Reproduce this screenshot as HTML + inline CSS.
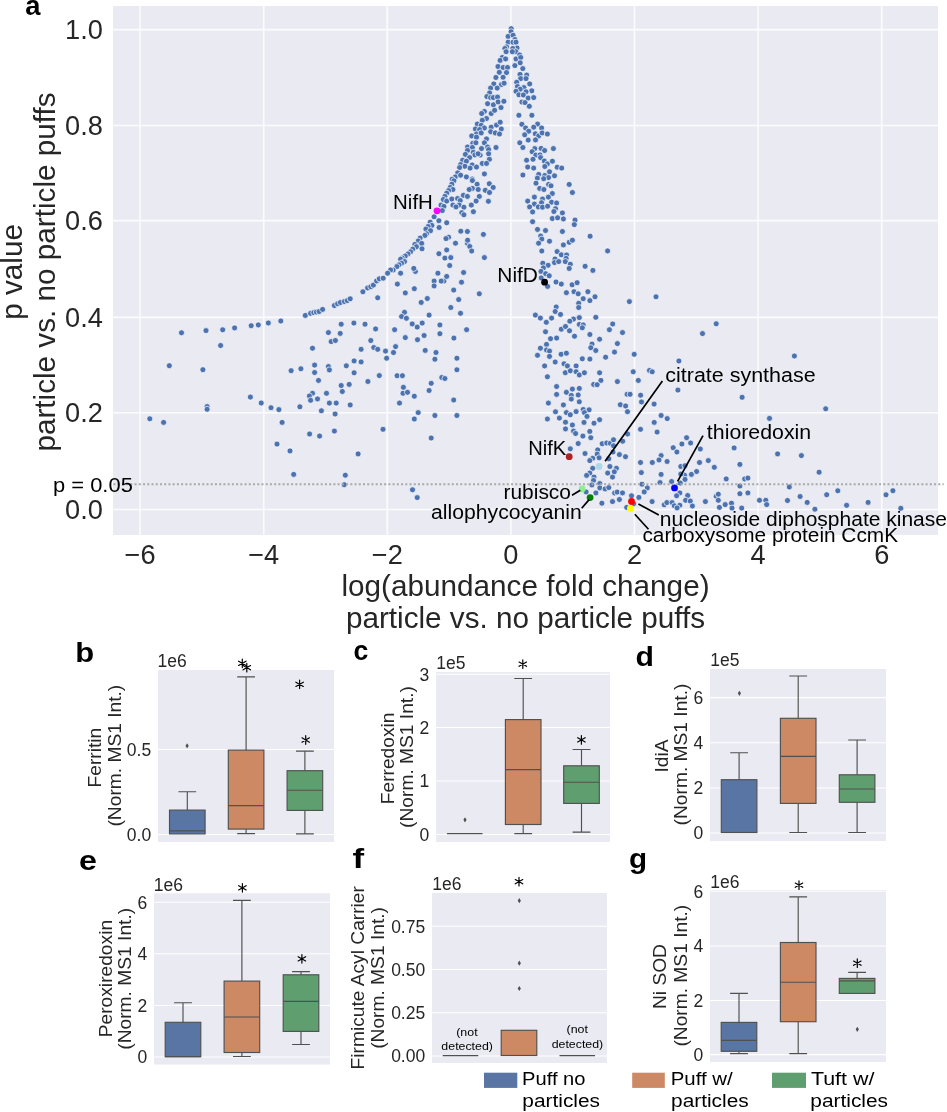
<!DOCTYPE html>
<html><head><meta charset="utf-8"><title>Figure</title>
<style>html,body{margin:0;padding:0;background:#fff;}svg{display:block;will-change:transform;}text{font-family:'Liberation Sans', sans-serif;}</style>
</head><body>
<svg width="947" height="1112" viewBox="0 0 947 1112">
<rect width="947" height="1112" fill="#fff"/>
<rect x="113" y="6" width="825" height="529" fill="#EAEAF2"/>
<path d="M140.10 6V535M263.70 6V535M387.30 6V535M510.90 6V535M634.50 6V535M758.10 6V535M881.70 6V535M113 509.50H938M113 412.75H938M113 317.35H938M113 220.60H938M113 125.45H938M113 29.60H938" stroke="#FBFBFD" stroke-width="1.6" fill="none"/>
<text x="102.9" y="518.80" font-size="27.2" text-anchor="end" fill="#262626">0.0</text>
<text x="102.9" y="422.05" font-size="27.2" text-anchor="end" fill="#262626">0.2</text>
<text x="102.9" y="326.65" font-size="27.2" text-anchor="end" fill="#262626">0.4</text>
<text x="102.9" y="229.90" font-size="27.2" text-anchor="end" fill="#262626">0.6</text>
<text x="102.9" y="134.75" font-size="27.2" text-anchor="end" fill="#262626">0.8</text>
<text x="102.9" y="38.90" font-size="27.2" text-anchor="end" fill="#262626">1.0</text>
<text x="140.10" y="563.9" font-size="27.2" text-anchor="middle" fill="#262626">−6</text>
<text x="263.70" y="563.9" font-size="27.2" text-anchor="middle" fill="#262626">−4</text>
<text x="387.30" y="563.9" font-size="27.2" text-anchor="middle" fill="#262626">−2</text>
<text x="510.90" y="563.9" font-size="27.2" text-anchor="middle" fill="#262626">0</text>
<text x="634.50" y="563.9" font-size="27.2" text-anchor="middle" fill="#262626">2</text>
<text x="758.10" y="563.9" font-size="27.2" text-anchor="middle" fill="#262626">4</text>
<text x="881.70" y="563.9" font-size="27.2" text-anchor="middle" fill="#262626">6</text>
<text x="525.5" y="595.7" font-size="29.7" text-anchor="middle" fill="#262626">log(abundance fold change)</text>
<text x="525.5" y="627.7" font-size="29.7" text-anchor="middle" fill="#262626">particle vs. no particle puffs</text>
<text transform="translate(21.8 271.9) rotate(-90)" font-size="29.7" text-anchor="middle" fill="#262626">p value</text>
<text transform="translate(54.5 272) rotate(-90)" font-size="29.7" text-anchor="middle" fill="#262626">particle vs. no particle puffs</text>
<g fill="#4C72B0" stroke="#fff" stroke-width="0.7"><circle cx="511.2" cy="28.7" r="3.0"/><circle cx="511.0" cy="31.8" r="3.0"/><circle cx="508.1" cy="36.4" r="3.0"/><circle cx="513.1" cy="35.3" r="3.0"/><circle cx="514.9" cy="39.5" r="3.0"/><circle cx="508.1" cy="42.2" r="3.0"/><circle cx="513.0" cy="42.2" r="3.0"/><circle cx="516.0" cy="42.2" r="3.0"/><circle cx="506.5" cy="46.9" r="3.0"/><circle cx="517.0" cy="48.0" r="3.0"/><circle cx="504.9" cy="48.5" r="3.0"/><circle cx="512.8" cy="48.5" r="3.0"/><circle cx="506.1" cy="51.7" r="3.0"/><circle cx="515.8" cy="51.7" r="3.0"/><circle cx="512.3" cy="51.7" r="3.0"/><circle cx="519.7" cy="54.9" r="3.0"/><circle cx="502.2" cy="57.5" r="3.0"/><circle cx="500.1" cy="60.4" r="3.0"/><circle cx="505.6" cy="58.9" r="3.0"/><circle cx="516.0" cy="58.9" r="3.0"/><circle cx="520.7" cy="57.5" r="3.0"/><circle cx="520.2" cy="62.8" r="3.0"/><circle cx="514.9" cy="65.6" r="3.0"/><circle cx="498.0" cy="66.5" r="3.0"/><circle cx="503.1" cy="67.5" r="3.0"/><circle cx="507.5" cy="67.5" r="3.0"/><circle cx="522.8" cy="68.6" r="3.0"/><circle cx="499.3" cy="72.3" r="3.0"/><circle cx="506.5" cy="72.6" r="3.0"/><circle cx="520.0" cy="74.4" r="3.0"/><circle cx="526.7" cy="75.1" r="3.0"/><circle cx="495.9" cy="77.5" r="3.0"/><circle cx="503.1" cy="77.3" r="3.0"/><circle cx="520.7" cy="78.6" r="3.0"/><circle cx="526.0" cy="78.6" r="3.0"/><circle cx="493.8" cy="83.9" r="3.0"/><circle cx="501.4" cy="84.6" r="3.0"/><circle cx="504.1" cy="83.2" r="3.0"/><circle cx="516.7" cy="82.3" r="3.0"/><circle cx="529.7" cy="83.9" r="3.0"/><circle cx="490.6" cy="88.1" r="3.0"/><circle cx="497.2" cy="88.1" r="3.0"/><circle cx="517.5" cy="86.5" r="3.0"/><circle cx="523.9" cy="87.6" r="3.0"/><circle cx="520.2" cy="89.2" r="3.0"/><circle cx="531.8" cy="90.8" r="3.0"/><circle cx="489.6" cy="92.9" r="3.0"/><circle cx="516.0" cy="91.3" r="3.0"/><circle cx="526.0" cy="91.8" r="3.0"/><circle cx="518.9" cy="94.8" r="3.0"/><circle cx="523.4" cy="95.0" r="3.0"/><circle cx="486.9" cy="96.6" r="3.0"/><circle cx="490.6" cy="97.6" r="3.0"/><circle cx="493.3" cy="97.6" r="3.0"/><circle cx="497.5" cy="97.1" r="3.0"/><circle cx="528.1" cy="98.1" r="3.0"/><circle cx="533.7" cy="97.6" r="3.0"/><circle cx="487.6" cy="103.7" r="3.0"/><circle cx="493.4" cy="104.8" r="3.0"/><circle cx="498.1" cy="101.9" r="3.0"/><circle cx="503.9" cy="101.3" r="3.0"/><circle cx="501.0" cy="107.6" r="3.0"/><circle cx="484.4" cy="111.4" r="3.0"/><circle cx="481.7" cy="113.5" r="3.0"/><circle cx="491.2" cy="113.5" r="3.0"/><circle cx="494.6" cy="110.3" r="3.0"/><circle cx="486.5" cy="118.5" r="3.0"/><circle cx="482.3" cy="120.3" r="3.0"/><circle cx="477.3" cy="124.1" r="3.0"/><circle cx="481.2" cy="125.3" r="3.0"/><circle cx="484.4" cy="128.0" r="3.0"/><circle cx="491.2" cy="127.2" r="3.0"/><circle cx="496.5" cy="125.1" r="3.0"/><circle cx="500.2" cy="122.2" r="3.0"/><circle cx="501.3" cy="129.0" r="3.0"/><circle cx="475.4" cy="129.0" r="3.0"/><circle cx="479.6" cy="129.6" r="3.0"/><circle cx="490.7" cy="131.7" r="3.0"/><circle cx="495.3" cy="132.9" r="3.0"/><circle cx="499.5" cy="134.0" r="3.0"/><circle cx="476.5" cy="134.0" r="3.0"/><circle cx="481.2" cy="132.9" r="3.0"/><circle cx="471.7" cy="135.9" r="3.0"/><circle cx="476.5" cy="137.2" r="3.0"/><circle cx="486.5" cy="138.9" r="3.0"/><circle cx="484.4" cy="142.8" r="3.0"/><circle cx="472.8" cy="143.3" r="3.0"/><circle cx="475.9" cy="142.8" r="3.0"/><circle cx="487.6" cy="147.0" r="3.0"/><circle cx="488.6" cy="149.6" r="3.0"/><circle cx="496.0" cy="147.5" r="3.0"/><circle cx="467.5" cy="147.0" r="3.0"/><circle cx="472.4" cy="147.5" r="3.0"/><circle cx="481.5" cy="148.6" r="3.0"/><circle cx="467.5" cy="150.5" r="3.0"/><circle cx="465.4" cy="154.4" r="3.0"/><circle cx="473.3" cy="152.3" r="3.0"/><circle cx="474.9" cy="154.9" r="3.0"/><circle cx="480.2" cy="155.1" r="3.0"/><circle cx="478.1" cy="153.8" r="3.0"/><circle cx="488.6" cy="153.8" r="3.0"/><circle cx="469.6" cy="157.6" r="3.0"/><circle cx="489.4" cy="159.3" r="3.0"/><circle cx="462.7" cy="160.2" r="3.0"/><circle cx="466.4" cy="161.2" r="3.0"/><circle cx="460.6" cy="164.6" r="3.0"/><circle cx="464.9" cy="166.3" r="3.0"/><circle cx="472.2" cy="164.9" r="3.0"/><circle cx="470.1" cy="168.1" r="3.0"/><circle cx="476.5" cy="167.1" r="3.0"/><circle cx="482.3" cy="163.4" r="3.0"/><circle cx="486.5" cy="163.4" r="3.0"/><circle cx="459.6" cy="167.6" r="3.0"/><circle cx="484.4" cy="173.9" r="3.0"/><circle cx="457.7" cy="172.9" r="3.0"/><circle cx="455.3" cy="176.9" r="3.0"/><circle cx="460.6" cy="175.2" r="3.0"/><circle cx="466.4" cy="176.9" r="3.0"/><circle cx="472.2" cy="179.0" r="3.0"/><circle cx="452.2" cy="179.2" r="3.0"/><circle cx="518.9" cy="115.3" r="3.0"/><circle cx="521.9" cy="124.3" r="3.0"/><circle cx="525.6" cy="128.0" r="3.0"/><circle cx="528.7" cy="131.2" r="3.0"/><circle cx="524.7" cy="134.8" r="3.0"/><circle cx="528.2" cy="140.1" r="3.0"/><circle cx="519.8" cy="142.8" r="3.0"/><circle cx="522.9" cy="147.5" r="3.0"/><circle cx="526.6" cy="160.2" r="3.0"/><circle cx="527.7" cy="167.1" r="3.0"/><circle cx="522.9" cy="175.0" r="3.0"/><circle cx="521.9" cy="102.1" r="3.0"/><circle cx="525.0" cy="102.6" r="3.0"/><circle cx="529.3" cy="106.3" r="3.0"/><circle cx="531.9" cy="115.3" r="3.0"/><circle cx="537.6" cy="124.1" r="3.0"/><circle cx="533.7" cy="127.2" r="3.0"/><circle cx="541.6" cy="128.0" r="3.0"/><circle cx="535.3" cy="133.8" r="3.0"/><circle cx="538.7" cy="135.9" r="3.0"/><circle cx="542.1" cy="132.9" r="3.0"/><circle cx="547.4" cy="134.0" r="3.0"/><circle cx="535.5" cy="139.9" r="3.0"/><circle cx="534.8" cy="148.6" r="3.0"/><circle cx="541.1" cy="148.4" r="3.0"/><circle cx="544.6" cy="150.5" r="3.0"/><circle cx="553.4" cy="148.6" r="3.0"/><circle cx="532.1" cy="151.7" r="3.0"/><circle cx="535.8" cy="155.1" r="3.0"/><circle cx="540.0" cy="154.9" r="3.0"/><circle cx="540.6" cy="157.6" r="3.0"/><circle cx="533.0" cy="159.3" r="3.0"/><circle cx="544.3" cy="161.0" r="3.0"/><circle cx="547.4" cy="163.9" r="3.0"/><circle cx="552.4" cy="161.2" r="3.0"/><circle cx="544.8" cy="166.5" r="3.0"/><circle cx="533.7" cy="168.1" r="3.0"/><circle cx="557.2" cy="167.2" r="3.0"/><circle cx="561.7" cy="168.1" r="3.0"/><circle cx="549.5" cy="171.8" r="3.0"/><circle cx="538.7" cy="174.4" r="3.0"/><circle cx="554.5" cy="175.8" r="3.0"/><circle cx="544.8" cy="175.5" r="3.0"/><circle cx="548.5" cy="177.6" r="3.0"/><circle cx="543.7" cy="178.7" r="3.0"/><circle cx="537.4" cy="178.1" r="3.0"/><circle cx="453.9" cy="180.8" r="3.0"/><circle cx="451.8" cy="184.2" r="3.0"/><circle cx="450.2" cy="187.4" r="3.0"/><circle cx="452.9" cy="189.5" r="3.0"/><circle cx="448.6" cy="190.6" r="3.0"/><circle cx="446.7" cy="193.2" r="3.0"/><circle cx="444.9" cy="196.4" r="3.0"/><circle cx="443.4" cy="199.5" r="3.0"/><circle cx="446.7" cy="201.1" r="3.0"/><circle cx="441.0" cy="205.1" r="3.0"/><circle cx="443.9" cy="206.4" r="3.0"/><circle cx="442.3" cy="210.6" r="3.0"/><circle cx="434.1" cy="216.8" r="3.0"/><circle cx="430.2" cy="222.2" r="3.0"/><circle cx="431.9" cy="225.4" r="3.0"/><circle cx="428.1" cy="226.5" r="3.0"/><circle cx="425.9" cy="229.1" r="3.0"/><circle cx="430.5" cy="230.7" r="3.0"/><circle cx="426.5" cy="233.8" r="3.0"/><circle cx="424.9" cy="235.4" r="3.0"/><circle cx="420.1" cy="238.1" r="3.0"/><circle cx="418.2" cy="241.0" r="3.0"/><circle cx="421.7" cy="243.4" r="3.0"/><circle cx="414.9" cy="244.4" r="3.0"/><circle cx="416.4" cy="246.7" r="3.0"/><circle cx="412.7" cy="249.2" r="3.0"/><circle cx="410.6" cy="251.8" r="3.0"/><circle cx="408.0" cy="253.9" r="3.0"/><circle cx="405.3" cy="256.0" r="3.0"/><circle cx="402.2" cy="258.1" r="3.0"/><circle cx="400.6" cy="259.2" r="3.0"/><circle cx="472.4" cy="180.5" r="3.0"/><circle cx="477.1" cy="184.2" r="3.0"/><circle cx="472.4" cy="188.4" r="3.0"/><circle cx="478.2" cy="189.5" r="3.0"/><circle cx="469.2" cy="189.5" r="3.0"/><circle cx="463.4" cy="195.3" r="3.0"/><circle cx="467.4" cy="196.4" r="3.0"/><circle cx="479.3" cy="196.4" r="3.0"/><circle cx="451.8" cy="199.0" r="3.0"/><circle cx="457.6" cy="198.5" r="3.0"/><circle cx="460.2" cy="200.6" r="3.0"/><circle cx="476.1" cy="201.1" r="3.0"/><circle cx="452.9" cy="205.1" r="3.0"/><circle cx="459.2" cy="205.1" r="3.0"/><circle cx="463.9" cy="207.2" r="3.0"/><circle cx="471.3" cy="205.1" r="3.0"/><circle cx="456.0" cy="206.9" r="3.0"/><circle cx="461.8" cy="212.7" r="3.0"/><circle cx="463.9" cy="214.8" r="3.0"/><circle cx="473.4" cy="211.7" r="3.0"/><circle cx="438.9" cy="220.7" r="3.0"/><circle cx="446.7" cy="222.8" r="3.0"/><circle cx="439.1" cy="227.5" r="3.0"/><circle cx="460.8" cy="231.2" r="3.0"/><circle cx="467.4" cy="231.5" r="3.0"/><circle cx="448.6" cy="237.2" r="3.0"/><circle cx="446.0" cy="238.6" r="3.0"/><circle cx="455.5" cy="243.2" r="3.0"/><circle cx="467.4" cy="243.2" r="3.0"/><circle cx="467.6" cy="240.2" r="3.0"/><circle cx="469.8" cy="246.5" r="3.0"/><circle cx="471.7" cy="251.0" r="3.0"/><circle cx="422.0" cy="248.8" r="3.0"/><circle cx="446.7" cy="249.9" r="3.0"/><circle cx="438.9" cy="253.7" r="3.0"/><circle cx="444.9" cy="258.1" r="3.0"/><circle cx="450.8" cy="257.6" r="3.0"/><circle cx="489.3" cy="183.7" r="3.0"/><circle cx="493.2" cy="187.4" r="3.0"/><circle cx="485.3" cy="190.3" r="3.0"/><circle cx="489.5" cy="192.5" r="3.0"/><circle cx="488.4" cy="201.3" r="3.0"/><circle cx="483.4" cy="234.4" r="3.0"/><circle cx="484.4" cy="257.6" r="3.0"/><circle cx="536.0" cy="183.2" r="3.0"/><circle cx="548.6" cy="184.4" r="3.0"/><circle cx="551.0" cy="185.8" r="3.0"/><circle cx="569.2" cy="184.4" r="3.0"/><circle cx="539.7" cy="188.4" r="3.0"/><circle cx="543.9" cy="189.5" r="3.0"/><circle cx="572.4" cy="192.5" r="3.0"/><circle cx="552.3" cy="193.5" r="3.0"/><circle cx="534.4" cy="197.1" r="3.0"/><circle cx="548.4" cy="197.1" r="3.0"/><circle cx="542.5" cy="199.0" r="3.0"/><circle cx="527.7" cy="201.1" r="3.0"/><circle cx="541.5" cy="202.7" r="3.0"/><circle cx="534.4" cy="204.1" r="3.0"/><circle cx="551.6" cy="202.2" r="3.0"/><circle cx="556.6" cy="203.0" r="3.0"/><circle cx="529.6" cy="206.9" r="3.0"/><circle cx="538.3" cy="206.9" r="3.0"/><circle cx="542.5" cy="207.2" r="3.0"/><circle cx="547.6" cy="206.2" r="3.0"/><circle cx="555.5" cy="208.7" r="3.0"/><circle cx="553.9" cy="211.5" r="3.0"/><circle cx="532.6" cy="211.9" r="3.0"/><circle cx="562.4" cy="212.9" r="3.0"/><circle cx="552.3" cy="218.5" r="3.0"/><circle cx="557.6" cy="217.8" r="3.0"/><circle cx="563.4" cy="218.9" r="3.0"/><circle cx="575.0" cy="220.1" r="3.0"/><circle cx="574.3" cy="224.6" r="3.0"/><circle cx="532.6" cy="221.7" r="3.0"/><circle cx="537.5" cy="229.4" r="3.0"/><circle cx="545.5" cy="230.5" r="3.0"/><circle cx="562.4" cy="231.5" r="3.0"/><circle cx="540.7" cy="236.0" r="3.0"/><circle cx="541.8" cy="239.1" r="3.0"/><circle cx="538.6" cy="243.2" r="3.0"/><circle cx="549.5" cy="241.2" r="3.0"/><circle cx="569.2" cy="242.3" r="3.0"/><circle cx="572.4" cy="240.2" r="3.0"/><circle cx="563.4" cy="244.9" r="3.0"/><circle cx="541.8" cy="251.0" r="3.0"/><circle cx="557.1" cy="251.6" r="3.0"/><circle cx="561.3" cy="254.8" r="3.0"/><circle cx="566.6" cy="255.0" r="3.0"/><circle cx="555.0" cy="259.0" r="3.0"/><circle cx="566.1" cy="258.4" r="3.0"/><circle cx="590.1" cy="236.2" r="3.0"/><circle cx="607.6" cy="250.9" r="3.0"/><circle cx="305.3" cy="315.4" r="3.0"/><circle cx="310.6" cy="313.3" r="3.0"/><circle cx="313.8" cy="312.6" r="3.0"/><circle cx="316.4" cy="312.0" r="3.0"/><circle cx="319.1" cy="311.5" r="3.0"/><circle cx="322.6" cy="309.4" r="3.0"/><circle cx="334.4" cy="305.5" r="3.0"/><circle cx="337.6" cy="303.8" r="3.0"/><circle cx="340.4" cy="302.5" r="3.0"/><circle cx="344.4" cy="301.5" r="3.0"/><circle cx="347.3" cy="300.6" r="3.0"/><circle cx="350.2" cy="298.8" r="3.0"/><circle cx="362.9" cy="291.8" r="3.0"/><circle cx="367.6" cy="287.9" r="3.0"/><circle cx="370.8" cy="286.7" r="3.0"/><circle cx="373.4" cy="285.1" r="3.0"/><circle cx="376.6" cy="280.9" r="3.0"/><circle cx="379.3" cy="278.8" r="3.0"/><circle cx="280.8" cy="321.0" r="3.0"/><circle cx="341.2" cy="324.2" r="3.0"/><circle cx="353.9" cy="323.1" r="3.0"/><circle cx="365.0" cy="324.2" r="3.0"/><circle cx="375.6" cy="328.9" r="3.0"/><circle cx="377.7" cy="297.8" r="3.0"/><circle cx="328.4" cy="332.6" r="3.0"/><circle cx="340.2" cy="333.4" r="3.0"/><circle cx="404.5" cy="261.6" r="3.0"/><circle cx="401.6" cy="263.2" r="3.0"/><circle cx="399.0" cy="264.8" r="3.0"/><circle cx="396.9" cy="266.6" r="3.0"/><circle cx="393.2" cy="270.0" r="3.0"/><circle cx="390.6" cy="270.0" r="3.0"/><circle cx="387.6" cy="273.2" r="3.0"/><circle cx="383.2" cy="278.2" r="3.0"/><circle cx="400.6" cy="273.2" r="3.0"/><circle cx="415.4" cy="271.4" r="3.0"/><circle cx="413.8" cy="268.4" r="3.0"/><circle cx="397.4" cy="284.1" r="3.0"/><circle cx="405.3" cy="292.9" r="3.0"/><circle cx="414.3" cy="288.7" r="3.0"/><circle cx="421.2" cy="302.4" r="3.0"/><circle cx="427.3" cy="298.5" r="3.0"/><circle cx="437.9" cy="273.2" r="3.0"/><circle cx="434.1" cy="281.1" r="3.0"/><circle cx="434.1" cy="285.9" r="3.0"/><circle cx="443.9" cy="281.1" r="3.0"/><circle cx="441.2" cy="281.1" r="3.0"/><circle cx="446.7" cy="276.4" r="3.0"/><circle cx="449.7" cy="265.5" r="3.0"/><circle cx="463.6" cy="272.5" r="3.0"/><circle cx="461.5" cy="282.2" r="3.0"/><circle cx="453.7" cy="290.1" r="3.0"/><circle cx="458.7" cy="299.6" r="3.0"/><circle cx="450.8" cy="307.5" r="3.0"/><circle cx="460.5" cy="313.3" r="3.0"/><circle cx="479.3" cy="293.8" r="3.0"/><circle cx="404.5" cy="312.3" r="3.0"/><circle cx="401.6" cy="316.5" r="3.0"/><circle cx="406.4" cy="318.3" r="3.0"/><circle cx="429.1" cy="315.1" r="3.0"/><circle cx="412.2" cy="323.9" r="3.0"/><circle cx="417.2" cy="327.1" r="3.0"/><circle cx="422.2" cy="323.1" r="3.0"/><circle cx="394.6" cy="329.7" r="3.0"/><circle cx="439.9" cy="324.9" r="3.0"/><circle cx="439.9" cy="333.7" r="3.0"/><circle cx="466.6" cy="329.7" r="3.0"/><circle cx="424.1" cy="335.5" r="3.0"/><circle cx="405.3" cy="337.6" r="3.0"/><circle cx="453.9" cy="338.1" r="3.0"/><circle cx="417.5" cy="339.7" r="3.0"/><circle cx="542.8" cy="263.2" r="3.0"/><circle cx="548.1" cy="265.3" r="3.0"/><circle cx="543.4" cy="267.9" r="3.0"/><circle cx="541.0" cy="271.4" r="3.0"/><circle cx="545.7" cy="273.7" r="3.0"/><circle cx="549.2" cy="275.8" r="3.0"/><circle cx="541.2" cy="277.9" r="3.0"/><circle cx="547.6" cy="286.4" r="3.0"/><circle cx="556.0" cy="282.0" r="3.0"/><circle cx="561.3" cy="284.1" r="3.0"/><circle cx="554.5" cy="262.6" r="3.0"/><circle cx="558.7" cy="261.6" r="3.0"/><circle cx="565.3" cy="261.6" r="3.0"/><circle cx="570.3" cy="264.2" r="3.0"/><circle cx="569.2" cy="268.4" r="3.0"/><circle cx="572.1" cy="284.8" r="3.0"/><circle cx="577.1" cy="282.7" r="3.0"/><circle cx="566.4" cy="292.7" r="3.0"/><circle cx="574.0" cy="291.7" r="3.0"/><circle cx="578.2" cy="293.8" r="3.0"/><circle cx="578.7" cy="303.3" r="3.0"/><circle cx="578.7" cy="307.5" r="3.0"/><circle cx="556.2" cy="307.0" r="3.0"/><circle cx="555.2" cy="311.5" r="3.0"/><circle cx="560.5" cy="314.4" r="3.0"/><circle cx="535.4" cy="315.1" r="3.0"/><circle cx="540.4" cy="318.1" r="3.0"/><circle cx="546.3" cy="322.3" r="3.0"/><circle cx="551.6" cy="318.1" r="3.0"/><circle cx="573.5" cy="319.1" r="3.0"/><circle cx="569.8" cy="321.2" r="3.0"/><circle cx="579.3" cy="317.6" r="3.0"/><circle cx="579.3" cy="324.4" r="3.0"/><circle cx="561.3" cy="329.2" r="3.0"/><circle cx="565.5" cy="326.5" r="3.0"/><circle cx="569.5" cy="330.8" r="3.0"/><circle cx="545.5" cy="331.8" r="3.0"/><circle cx="574.5" cy="336.2" r="3.0"/><circle cx="550.5" cy="338.7" r="3.0"/><circle cx="556.6" cy="338.1" r="3.0"/><circle cx="585.1" cy="266.3" r="3.0"/><circle cx="592.9" cy="270.4" r="3.0"/><circle cx="587.9" cy="291.7" r="3.0"/><circle cx="583.2" cy="298.7" r="3.0"/><circle cx="595.0" cy="296.8" r="3.0"/><circle cx="589.9" cy="300.6" r="3.0"/><circle cx="629.4" cy="301.6" r="3.0"/><circle cx="656.0" cy="296.8" r="3.0"/><circle cx="595.8" cy="317.3" r="3.0"/><circle cx="583.2" cy="324.9" r="3.0"/><circle cx="582.3" cy="327.8" r="3.0"/><circle cx="612.7" cy="324.0" r="3.0"/><circle cx="609.4" cy="329.7" r="3.0"/><circle cx="622.5" cy="332.6" r="3.0"/><circle cx="589.9" cy="334.5" r="3.0"/><circle cx="599.6" cy="339.2" r="3.0"/><circle cx="181.5" cy="332.8" r="3.0"/><circle cx="206.0" cy="330.6" r="3.0"/><circle cx="222.7" cy="329.8" r="3.0"/><circle cx="234.6" cy="327.9" r="3.0"/><circle cx="251.2" cy="325.7" r="3.0"/><circle cx="258.3" cy="324.9" r="3.0"/><circle cx="268.3" cy="323.0" r="3.0"/><circle cx="220.6" cy="345.5" r="3.0"/><circle cx="169.3" cy="365.7" r="3.0"/><circle cx="202.9" cy="369.7" r="3.0"/><circle cx="250.4" cy="397.1" r="3.0"/><circle cx="261.2" cy="403.0" r="3.0"/><circle cx="271.0" cy="407.7" r="3.0"/><circle cx="278.9" cy="409.6" r="3.0"/><circle cx="207.1" cy="406.6" r="3.0"/><circle cx="207.1" cy="409.3" r="3.0"/><circle cx="149.8" cy="418.8" r="3.0"/><circle cx="163.6" cy="422.4" r="3.0"/><circle cx="277.0" cy="444.1" r="3.0"/><circle cx="331.2" cy="341.6" r="3.0"/><circle cx="335.4" cy="340.5" r="3.0"/><circle cx="312.5" cy="348.2" r="3.0"/><circle cx="370.8" cy="340.5" r="3.0"/><circle cx="361.1" cy="349.3" r="3.0"/><circle cx="373.8" cy="347.5" r="3.0"/><circle cx="377.7" cy="349.3" r="3.0"/><circle cx="354.1" cy="360.9" r="3.0"/><circle cx="361.1" cy="361.9" r="3.0"/><circle cx="346.3" cy="365.8" r="3.0"/><circle cx="314.6" cy="365.1" r="3.0"/><circle cx="328.4" cy="366.5" r="3.0"/><circle cx="329.4" cy="369.9" r="3.0"/><circle cx="300.9" cy="368.8" r="3.0"/><circle cx="291.1" cy="370.7" r="3.0"/><circle cx="314.6" cy="372.5" r="3.0"/><circle cx="354.1" cy="372.8" r="3.0"/><circle cx="379.3" cy="375.6" r="3.0"/><circle cx="318.5" cy="380.4" r="3.0"/><circle cx="367.9" cy="381.5" r="3.0"/><circle cx="341.2" cy="385.5" r="3.0"/><circle cx="349.2" cy="384.4" r="3.0"/><circle cx="342.3" cy="391.5" r="3.0"/><circle cx="312.5" cy="393.3" r="3.0"/><circle cx="309.4" cy="396.0" r="3.0"/><circle cx="310.6" cy="400.3" r="3.0"/><circle cx="317.5" cy="398.9" r="3.0"/><circle cx="326.5" cy="393.3" r="3.0"/><circle cx="329.4" cy="403.1" r="3.0"/><circle cx="336.2" cy="403.1" r="3.0"/><circle cx="350.2" cy="404.9" r="3.0"/><circle cx="299.9" cy="406.8" r="3.0"/><circle cx="321.4" cy="410.8" r="3.0"/><circle cx="335.1" cy="414.0" r="3.0"/><circle cx="395.6" cy="346.6" r="3.0"/><circle cx="385.5" cy="351.1" r="3.0"/><circle cx="393.5" cy="352.5" r="3.0"/><circle cx="386.6" cy="358.2" r="3.0"/><circle cx="425.2" cy="350.4" r="3.0"/><circle cx="436.0" cy="352.5" r="3.0"/><circle cx="434.9" cy="359.2" r="3.0"/><circle cx="456.9" cy="358.2" r="3.0"/><circle cx="456.9" cy="369.8" r="3.0"/><circle cx="397.1" cy="375.7" r="3.0"/><circle cx="402.4" cy="375.7" r="3.0"/><circle cx="441.8" cy="377.5" r="3.0"/><circle cx="444.9" cy="378.5" r="3.0"/><circle cx="431.2" cy="383.3" r="3.0"/><circle cx="403.4" cy="387.3" r="3.0"/><circle cx="403.0" cy="393.3" r="3.0"/><circle cx="407.5" cy="392.3" r="3.0"/><circle cx="414.3" cy="396.2" r="3.0"/><circle cx="429.1" cy="390.5" r="3.0"/><circle cx="399.5" cy="403.1" r="3.0"/><circle cx="453.7" cy="400.0" r="3.0"/><circle cx="418.2" cy="412.6" r="3.0"/><circle cx="434.9" cy="415.5" r="3.0"/><circle cx="456.9" cy="415.5" r="3.0"/><circle cx="414.3" cy="419.0" r="3.0"/><circle cx="546.5" cy="344.4" r="3.0"/><circle cx="540.4" cy="348.2" r="3.0"/><circle cx="546.5" cy="350.0" r="3.0"/><circle cx="549.5" cy="351.1" r="3.0"/><circle cx="537.5" cy="355.3" r="3.0"/><circle cx="549.5" cy="356.4" r="3.0"/><circle cx="561.1" cy="354.3" r="3.0"/><circle cx="566.4" cy="353.2" r="3.0"/><circle cx="555.2" cy="362.0" r="3.0"/><circle cx="564.0" cy="363.8" r="3.0"/><circle cx="567.4" cy="365.9" r="3.0"/><circle cx="576.1" cy="365.9" r="3.0"/><circle cx="544.6" cy="365.9" r="3.0"/><circle cx="565.3" cy="372.7" r="3.0"/><circle cx="570.3" cy="370.8" r="3.0"/><circle cx="576.1" cy="371.7" r="3.0"/><circle cx="579.3" cy="374.9" r="3.0"/><circle cx="547.4" cy="376.8" r="3.0"/><circle cx="556.6" cy="386.5" r="3.0"/><circle cx="556.6" cy="394.4" r="3.0"/><circle cx="566.4" cy="392.3" r="3.0"/><circle cx="572.4" cy="389.1" r="3.0"/><circle cx="579.3" cy="388.4" r="3.0"/><circle cx="571.3" cy="395.4" r="3.0"/><circle cx="571.3" cy="399.1" r="3.0"/><circle cx="578.2" cy="394.9" r="3.0"/><circle cx="579.3" cy="401.8" r="3.0"/><circle cx="548.4" cy="403.1" r="3.0"/><circle cx="563.4" cy="404.9" r="3.0"/><circle cx="555.5" cy="411.8" r="3.0"/><circle cx="566.4" cy="412.6" r="3.0"/><circle cx="570.3" cy="414.8" r="3.0"/><circle cx="576.1" cy="411.6" r="3.0"/><circle cx="547.4" cy="419.0" r="3.0"/><circle cx="559.4" cy="418.1" r="3.0"/><circle cx="592.0" cy="344.1" r="3.0"/><circle cx="590.8" cy="347.7" r="3.0"/><circle cx="595.8" cy="350.5" r="3.0"/><circle cx="617.4" cy="343.6" r="3.0"/><circle cx="614.5" cy="352.1" r="3.0"/><circle cx="605.6" cy="357.2" r="3.0"/><circle cx="582.3" cy="358.8" r="3.0"/><circle cx="589.9" cy="359.1" r="3.0"/><circle cx="634.2" cy="354.3" r="3.0"/><circle cx="678.9" cy="361.0" r="3.0"/><circle cx="584.4" cy="372.8" r="3.0"/><circle cx="599.6" cy="372.8" r="3.0"/><circle cx="633.2" cy="371.8" r="3.0"/><circle cx="649.5" cy="370.5" r="3.0"/><circle cx="652.2" cy="371.8" r="3.0"/><circle cx="600.9" cy="380.4" r="3.0"/><circle cx="593.7" cy="384.4" r="3.0"/><circle cx="597.1" cy="384.7" r="3.0"/><circle cx="617.4" cy="381.6" r="3.0"/><circle cx="638.3" cy="380.4" r="3.0"/><circle cx="677.9" cy="390.1" r="3.0"/><circle cx="627.1" cy="394.3" r="3.0"/><circle cx="630.1" cy="394.3" r="3.0"/><circle cx="640.6" cy="395.2" r="3.0"/><circle cx="641.5" cy="401.9" r="3.0"/><circle cx="654.1" cy="404.1" r="3.0"/><circle cx="620.3" cy="404.7" r="3.0"/><circle cx="625.6" cy="406.0" r="3.0"/><circle cx="627.5" cy="411.7" r="3.0"/><circle cx="583.2" cy="409.5" r="3.0"/><circle cx="589.1" cy="409.8" r="3.0"/><circle cx="584.4" cy="412.6" r="3.0"/><circle cx="587.0" cy="416.4" r="3.0"/><circle cx="661.1" cy="415.5" r="3.0"/><circle cx="667.2" cy="418.6" r="3.0"/><circle cx="599.6" cy="419.7" r="3.0"/><circle cx="716.2" cy="323.8" r="3.0"/><circle cx="702.5" cy="333.6" r="3.0"/><circle cx="794.4" cy="356.0" r="3.0"/><circle cx="742.1" cy="397.3" r="3.0"/><circle cx="769.5" cy="418.1" r="3.0"/><circle cx="825.7" cy="408.8" r="3.0"/><circle cx="282.1" cy="422.4" r="3.0"/><circle cx="309.6" cy="434.0" r="3.0"/><circle cx="319.6" cy="436.1" r="3.0"/><circle cx="334.4" cy="431.1" r="3.0"/><circle cx="290.0" cy="450.9" r="3.0"/><circle cx="358.1" cy="453.9" r="3.0"/><circle cx="293.7" cy="474.4" r="3.0"/><circle cx="345.3" cy="475.2" r="3.0"/><circle cx="344.2" cy="484.7" r="3.0"/><circle cx="383.0" cy="429.3" r="3.0"/><circle cx="431.2" cy="438.0" r="3.0"/><circle cx="412.5" cy="489.8" r="3.0"/><circle cx="417.2" cy="497.6" r="3.0"/><circle cx="565.5" cy="422.2" r="3.0"/><circle cx="572.4" cy="425.0" r="3.0"/><circle cx="565.5" cy="428.9" r="3.0"/><circle cx="573.5" cy="431.1" r="3.0"/><circle cx="575.6" cy="433.5" r="3.0"/><circle cx="578.2" cy="443.5" r="3.0"/><circle cx="570.3" cy="448.8" r="3.0"/><circle cx="584.0" cy="422.4" r="3.0"/><circle cx="594.0" cy="423.2" r="3.0"/><circle cx="589.8" cy="431.4" r="3.0"/><circle cx="582.9" cy="436.1" r="3.0"/><circle cx="590.8" cy="437.7" r="3.0"/><circle cx="585.0" cy="453.5" r="3.0"/><circle cx="597.7" cy="449.9" r="3.0"/><circle cx="597.2" cy="454.1" r="3.0"/><circle cx="599.1" cy="457.8" r="3.0"/><circle cx="592.7" cy="458.3" r="3.0"/><circle cx="589.8" cy="460.6" r="3.0"/><circle cx="602.2" cy="443.7" r="3.0"/><circle cx="606.7" cy="443.0" r="3.0"/><circle cx="610.4" cy="443.3" r="3.0"/><circle cx="613.5" cy="439.8" r="3.0"/><circle cx="613.5" cy="445.8" r="3.0"/><circle cx="613.0" cy="452.0" r="3.0"/><circle cx="622.7" cy="441.2" r="3.0"/><circle cx="627.6" cy="434.0" r="3.0"/><circle cx="640.5" cy="429.3" r="3.0"/><circle cx="654.2" cy="422.4" r="3.0"/><circle cx="657.1" cy="432.1" r="3.0"/><circle cx="619.4" cy="454.6" r="3.0"/><circle cx="625.5" cy="456.7" r="3.0"/><circle cx="608.8" cy="458.8" r="3.0"/><circle cx="592.7" cy="468.3" r="3.0"/><circle cx="589.8" cy="473.1" r="3.0"/><circle cx="586.6" cy="475.4" r="3.0"/><circle cx="594.0" cy="477.1" r="3.0"/><circle cx="593.5" cy="480.5" r="3.0"/><circle cx="609.9" cy="466.5" r="3.0"/><circle cx="616.4" cy="468.3" r="3.0"/><circle cx="614.3" cy="471.8" r="3.0"/><circle cx="607.7" cy="473.1" r="3.0"/><circle cx="612.5" cy="477.1" r="3.0"/><circle cx="591.9" cy="484.9" r="3.0"/><circle cx="599.8" cy="483.6" r="3.0"/><circle cx="599.8" cy="487.9" r="3.0"/><circle cx="605.1" cy="488.9" r="3.0"/><circle cx="608.8" cy="487.6" r="3.0"/><circle cx="586.1" cy="491.9" r="3.0"/><circle cx="595.9" cy="492.9" r="3.0"/><circle cx="614.6" cy="492.9" r="3.0"/><circle cx="617.2" cy="492.1" r="3.0"/><circle cx="622.5" cy="492.9" r="3.0"/><circle cx="601.9" cy="503.2" r="3.0"/><circle cx="612.5" cy="501.6" r="3.0"/><circle cx="619.4" cy="499.5" r="3.0"/><circle cx="631.5" cy="495.8" r="3.0"/><circle cx="638.9" cy="497.4" r="3.0"/><circle cx="626.7" cy="507.4" r="3.0"/><circle cx="633.6" cy="503.7" r="3.0"/><circle cx="640.5" cy="462.5" r="3.0"/><circle cx="641.3" cy="472.6" r="3.0"/><circle cx="642.0" cy="484.2" r="3.0"/><circle cx="647.3" cy="487.9" r="3.0"/><circle cx="644.2" cy="491.9" r="3.0"/><circle cx="652.3" cy="462.5" r="3.0"/><circle cx="661.1" cy="455.6" r="3.0"/><circle cx="659.0" cy="459.9" r="3.0"/><circle cx="667.1" cy="461.5" r="3.0"/><circle cx="661.1" cy="474.4" r="3.0"/><circle cx="660.0" cy="482.6" r="3.0"/><circle cx="671.6" cy="481.5" r="3.0"/><circle cx="673.2" cy="447.7" r="3.0"/><circle cx="652.1" cy="501.6" r="3.0"/><circle cx="664.2" cy="504.8" r="3.0"/><circle cx="666.9" cy="502.6" r="3.0"/><circle cx="672.1" cy="502.6" r="3.0"/><circle cx="674.3" cy="505.8" r="3.0"/><circle cx="686.6" cy="437.7" r="3.0"/><circle cx="681.9" cy="444.0" r="3.0"/><circle cx="690.6" cy="443.0" r="3.0"/><circle cx="700.3" cy="449.0" r="3.0"/><circle cx="676.9" cy="452.0" r="3.0"/><circle cx="699.5" cy="462.5" r="3.0"/><circle cx="708.3" cy="460.6" r="3.0"/><circle cx="714.3" cy="467.3" r="3.0"/><circle cx="680.8" cy="466.5" r="3.0"/><circle cx="685.0" cy="465.7" r="3.0"/><circle cx="696.6" cy="471.5" r="3.0"/><circle cx="691.4" cy="474.4" r="3.0"/><circle cx="684.5" cy="475.2" r="3.0"/><circle cx="680.8" cy="474.1" r="3.0"/><circle cx="685.0" cy="479.4" r="3.0"/><circle cx="680.3" cy="483.1" r="3.0"/><circle cx="726.2" cy="478.9" r="3.0"/><circle cx="734.1" cy="447.9" r="3.0"/><circle cx="739.9" cy="464.4" r="3.0"/><circle cx="744.7" cy="478.9" r="3.0"/><circle cx="747.9" cy="478.1" r="3.0"/><circle cx="739.9" cy="486.0" r="3.0"/><circle cx="679.8" cy="492.9" r="3.0"/><circle cx="676.6" cy="495.8" r="3.0"/><circle cx="687.7" cy="495.5" r="3.0"/><circle cx="685.6" cy="500.3" r="3.0"/><circle cx="690.3" cy="501.1" r="3.0"/><circle cx="692.4" cy="506.0" r="3.0"/><circle cx="679.8" cy="505.3" r="3.0"/><circle cx="677.1" cy="507.9" r="3.0"/><circle cx="705.4" cy="501.6" r="3.0"/><circle cx="716.2" cy="496.3" r="3.0"/><circle cx="718.3" cy="494.2" r="3.0"/><circle cx="718.3" cy="500.3" r="3.0"/><circle cx="719.4" cy="507.4" r="3.0"/><circle cx="725.2" cy="504.6" r="3.0"/><circle cx="731.5" cy="503.2" r="3.0"/><circle cx="732.0" cy="508.1" r="3.0"/><circle cx="739.9" cy="493.7" r="3.0"/><circle cx="747.9" cy="492.9" r="3.0"/><circle cx="741.7" cy="508.1" r="3.0"/><circle cx="759.5" cy="500.3" r="3.0"/><circle cx="765.8" cy="500.3" r="3.0"/><circle cx="766.7" cy="504.6" r="3.0"/><circle cx="769.5" cy="418.4" r="3.0"/><circle cx="777.6" cy="453.9" r="3.0"/><circle cx="801.4" cy="455.6" r="3.0"/><circle cx="819.1" cy="472.2" r="3.0"/><circle cx="789.3" cy="487.0" r="3.0"/><circle cx="787.5" cy="500.5" r="3.0"/><circle cx="800.1" cy="496.5" r="3.0"/><circle cx="807.2" cy="502.4" r="3.0"/><circle cx="814.9" cy="509.2" r="3.0"/><circle cx="826.7" cy="494.7" r="3.0"/><circle cx="837.8" cy="490.8" r="3.0"/><circle cx="846.6" cy="505.3" r="3.0"/><circle cx="868.1" cy="502.4" r="3.0"/><circle cx="886.0" cy="494.8" r="3.0"/><circle cx="892.9" cy="490.7" r="3.0"/><circle cx="900.8" cy="508.3" r="3.0"/></g><circle cx="437.0" cy="210.8" r="3.4" fill="#FF00FF"/><circle cx="544.6" cy="282.2" r="3.4" fill="#000000"/><circle cx="569.2" cy="456.7" r="3.4" fill="#B22222"/><circle cx="599.1" cy="466.5" r="3.4" fill="#ADD8E6"/><circle cx="582.2" cy="488.9" r="3.4" fill="#90EE90"/><circle cx="590.1" cy="497.6" r="3.4" fill="#008000"/><circle cx="631.5" cy="501.4" r="3.4" fill="#FF0000"/><circle cx="630.4" cy="508.5" r="3.4" fill="#FFFF00"/><circle cx="674.5" cy="487.9" r="3.4" fill="#0000FF"/>
<path d="M113.0 484.3H943.7" stroke="#A8A8A8" stroke-width="2" stroke-dasharray="2 2.23" stroke-dashoffset="-0.43" fill="none"/>
<path d="M605.1 461.3L662.4 380.9M677.6 481.3L703.0 435.6M638.4 504.0L658.8 515.0M634.8 514.3L648.5 529.3M572.0 495.3L580.3 490.2M581.7 508.3L589.1 499.6" stroke="#000" stroke-width="1.7" fill="none"/>
<text x="393.12" y="208.7" font-size="19.4" textLength="39.74" lengthAdjust="spacingAndGlyphs" fill="#000">NifH</text>
<text x="497.28" y="282.4" font-size="19.4" textLength="40.72" lengthAdjust="spacingAndGlyphs" fill="#000">NifD</text>
<text x="528.15" y="454.9" font-size="19.4" textLength="38.08" lengthAdjust="spacingAndGlyphs" fill="#000">NifK</text>
<text x="665.29" y="381.8" font-size="19.4" textLength="150.37" lengthAdjust="spacingAndGlyphs" fill="#000">citrate synthase</text>
<text x="706.88" y="438.8" font-size="19.4" textLength="104.31" lengthAdjust="spacingAndGlyphs" fill="#000">thioredoxin</text>
<text x="503.51" y="498.6" font-size="19.4" textLength="67.47" lengthAdjust="spacingAndGlyphs" fill="#000">rubisco</text>
<text x="431.10" y="519.4" font-size="19.4" textLength="150.57" lengthAdjust="spacingAndGlyphs" fill="#000">allophycocyanin</text>
<text x="659.81" y="526.4" font-size="19.4" textLength="287.13" lengthAdjust="spacingAndGlyphs" fill="#000">nucleoside diphosphate kinase</text>
<text x="642.42" y="542.3" font-size="19.4" textLength="255.62" lengthAdjust="spacingAndGlyphs" fill="#000">carboxysome protein CcmK</text>
<text x="53.09" y="492.2" font-size="19.4" textLength="79.73" lengthAdjust="spacingAndGlyphs" fill="#000">p = 0.05</text>
<rect x="158" y="670" width="176" height="172" fill="#EAEAF2"/>
<path d="M158 834.5H334M158 749.5H334" stroke="#fff" stroke-width="1.05" fill="none"/>
<text x="151.2" y="840.9" font-size="17.5" text-anchor="end" fill="#262626">0.0</text>
<text x="151.2" y="755.9" font-size="17.5" text-anchor="end" fill="#262626">0.5</text>
<text x="157.5" y="667.4" font-size="17.5" fill="#262626">1e6</text>
<text transform="translate(101.1 757.6) rotate(-90)" font-size="19.2" text-anchor="middle" fill="#262626">Ferritin</text>
<text transform="translate(120.7 755.65) rotate(-90)" font-size="19.2" text-anchor="middle" fill="#262626">(Norm. MS1 Int.)</text>
<path d="M187.30 810.1V791.7M178.40 791.7H196.20" stroke="#505050" stroke-width="1.15" fill="none"/><rect x="169.50" y="810.1" width="35.60" height="23.80" fill="#5875A4" stroke="#505050" stroke-width="1.15"/><path d="M169.50 830.8H205.10" stroke="#505050" stroke-width="1.15"/><path d="M187.1 743.1999999999999L188.7 745.8L187.1 748.4L185.5 745.8Z" fill="#505050"/>
<path d="M246.10 750.1V676.9M237.20 676.9H255.00M246.10 829.1V833.6M237.20 833.6H255.00" stroke="#505050" stroke-width="1.15" fill="none"/><rect x="228.30" y="750.1" width="35.60" height="79.00" fill="#CC8963" stroke="#505050" stroke-width="1.15"/><path d="M228.30 805.6H263.90" stroke="#505050" stroke-width="1.15"/>
<path d="M304.90 770.7V751.1M296.00 751.1H313.80M304.90 810.4V833.9M296.00 833.9H313.80" stroke="#505050" stroke-width="1.15" fill="none"/><rect x="287.10" y="770.7" width="35.60" height="39.70" fill="#5F9E6E" stroke="#505050" stroke-width="1.15"/><path d="M287.10 790.2H322.70" stroke="#505050" stroke-width="1.15"/>
<path d="M242.30 667.60L242.30 659.00M238.58 665.45L246.02 661.15M238.58 661.15L246.02 665.45" stroke="#000" stroke-width="1.2" stroke-linecap="round" fill="none"/>
<path d="M246.80 672.00L246.80 663.40M243.08 669.85L250.52 665.55M243.08 665.55L250.52 669.85" stroke="#000" stroke-width="1.2" stroke-linecap="round" fill="none"/>
<path d="M299.60 688.60L299.60 680.00M295.88 686.45L303.32 682.15M295.88 682.15L303.32 686.45" stroke="#000" stroke-width="1.2" stroke-linecap="round" fill="none"/>
<path d="M305.70 744.30L305.70 735.70M301.98 742.15L309.42 737.85M301.98 737.85L309.42 742.15" stroke="#000" stroke-width="1.2" stroke-linecap="round" fill="none"/>
<text x="75.36" y="661.6" font-size="28.2" font-weight="bold" textLength="18.91" lengthAdjust="spacingAndGlyphs" fill="#000">b</text>
<rect x="436" y="672" width="174" height="170" fill="#EAEAF2"/>
<path d="M436 834.4H610M436 780.9H610M436 727.4H610M436 674.2H610" stroke="#fff" stroke-width="1.05" fill="none"/>
<text x="429.2" y="840.8" font-size="17.5" text-anchor="end" fill="#262626">0</text>
<text x="429.2" y="787.3" font-size="17.5" text-anchor="end" fill="#262626">1</text>
<text x="429.2" y="733.8" font-size="17.5" text-anchor="end" fill="#262626">2</text>
<text x="429.2" y="680.6" font-size="17.5" text-anchor="end" fill="#262626">3</text>
<text x="436.3" y="669.1" font-size="17.5" fill="#262626">1e5</text>
<text transform="translate(394.1 758.4) rotate(-90)" font-size="19.2" text-anchor="middle" fill="#262626">Ferredoxin</text>
<text transform="translate(413.3 757.0) rotate(-90)" font-size="19.2" text-anchor="middle" fill="#262626">(Norm. MS1 Int.)</text>
<path d="M446.90 833.6H482.50" stroke="#505050" stroke-width="1.15"/><path d="M465 817.1999999999999L466.6 819.8L465 822.4L463.4 819.8Z" fill="#505050"/>
<path d="M523.20 719.6V678.5M514.30 678.5H532.10M523.20 824.5V833.6M514.30 833.6H532.10" stroke="#505050" stroke-width="1.15" fill="none"/><rect x="505.40" y="719.6" width="35.60" height="104.90" fill="#CC8963" stroke="#505050" stroke-width="1.15"/><path d="M505.40 769.6H541.00" stroke="#505050" stroke-width="1.15"/>
<path d="M581.50 765.8V749.5M572.60 749.5H590.40M581.50 803.4V832.1M572.60 832.1H590.40" stroke="#505050" stroke-width="1.15" fill="none"/><rect x="563.70" y="765.8" width="35.60" height="37.60" fill="#5F9E6E" stroke="#505050" stroke-width="1.15"/><path d="M563.70 782.2H599.30" stroke="#505050" stroke-width="1.15"/>
<path d="M522.80 668.50L522.80 659.90M519.08 666.35L526.52 662.05M519.08 662.05L526.52 666.35" stroke="#000" stroke-width="1.2" stroke-linecap="round" fill="none"/>
<path d="M581.40 744.20L581.40 735.60M577.68 742.05L585.12 737.75M577.68 737.75L585.12 742.05" stroke="#000" stroke-width="1.2" stroke-linecap="round" fill="none"/>
<text x="353.56" y="660.4" font-size="28.2" font-weight="bold" textLength="14.82" lengthAdjust="spacingAndGlyphs" fill="#000">c</text>
<rect x="710" y="669" width="176" height="172" fill="#EAEAF2"/>
<path d="M710 833.0H886M710 787.9H886M710 742.7H886M710 697.6H886" stroke="#fff" stroke-width="1.05" fill="none"/>
<text x="703.2" y="839.4" font-size="17.5" text-anchor="end" fill="#262626">0</text>
<text x="703.2" y="794.3" font-size="17.5" text-anchor="end" fill="#262626">2</text>
<text x="703.2" y="749.1" font-size="17.5" text-anchor="end" fill="#262626">4</text>
<text x="703.2" y="704.0" font-size="17.5" text-anchor="end" fill="#262626">6</text>
<text x="710.3" y="666.2" font-size="17.5" fill="#262626">1e5</text>
<text transform="translate(667.9 756.0) rotate(-90)" font-size="19.2" text-anchor="middle" fill="#262626">IdiA</text>
<text transform="translate(687.2 754.5) rotate(-90)" font-size="19.2" text-anchor="middle" fill="#262626">(Norm. MS1 Int.)</text>
<path d="M739.10 779.7V752.7M730.20 752.7H748.00" stroke="#505050" stroke-width="1.15" fill="none"/><rect x="721.30" y="779.7" width="35.60" height="52.80" fill="#5875A4" stroke="#505050" stroke-width="1.15"/><path d="M721.30 832.5H756.90" stroke="#505050" stroke-width="1.15"/><path d="M739.4 690.6999999999999L741.0 693.3L739.4 695.9L737.8 693.3Z" fill="#505050"/>
<path d="M798.20 718.3V676.0M789.30 676.0H807.10M798.20 803.4V832.5M789.30 832.5H807.10" stroke="#505050" stroke-width="1.15" fill="none"/><rect x="780.40" y="718.3" width="35.60" height="85.10" fill="#CC8963" stroke="#505050" stroke-width="1.15"/><path d="M780.40 756.3H816.00" stroke="#505050" stroke-width="1.15"/>
<path d="M857.10 774.8V740.0M848.20 740.0H866.00M857.10 802.3V832.5M848.20 832.5H866.00" stroke="#505050" stroke-width="1.15" fill="none"/><rect x="839.30" y="774.8" width="35.60" height="27.50" fill="#5F9E6E" stroke="#505050" stroke-width="1.15"/><path d="M839.30 789.0H874.90" stroke="#505050" stroke-width="1.15"/>
<text x="635.56" y="666.0" font-size="28.2" font-weight="bold" textLength="18.43" lengthAdjust="spacingAndGlyphs" fill="#000">d</text>
<rect x="154" y="893.3" width="176" height="171.20000000000005" fill="#EAEAF2"/>
<path d="M154 1057.0H330M154 1005.4H330M154 953.8H330M154 902.2H330" stroke="#fff" stroke-width="1.05" fill="none"/>
<text x="147.2" y="1063.4" font-size="17.5" text-anchor="end" fill="#262626">0</text>
<text x="147.2" y="1011.8" font-size="17.5" text-anchor="end" fill="#262626">2</text>
<text x="147.2" y="960.2" font-size="17.5" text-anchor="end" fill="#262626">4</text>
<text x="147.2" y="908.6" font-size="17.5" text-anchor="end" fill="#262626">6</text>
<text x="153.7" y="890.6" font-size="17.5" fill="#262626">1e6</text>
<text transform="translate(111.9 978.6) rotate(-90)" font-size="19.2" text-anchor="middle" fill="#262626">Peroxiredoxin</text>
<text transform="translate(131.0 978.8) rotate(-90)" font-size="19.2" text-anchor="middle" fill="#262626">(Norm. MS1 Int.)</text>
<path d="M183.00 1022.3V1002.7M174.10 1002.7H191.90" stroke="#505050" stroke-width="1.15" fill="none"/><rect x="165.20" y="1022.3" width="35.60" height="34.40" fill="#5875A4" stroke="#505050" stroke-width="1.15"/><path d="M165.20 1056.7H200.80" stroke="#505050" stroke-width="1.15"/>
<path d="M241.90 981.1V900.3M233.00 900.3H250.80M241.90 1052.5V1056.5M233.00 1056.5H250.80" stroke="#505050" stroke-width="1.15" fill="none"/><rect x="224.10" y="981.1" width="35.60" height="71.40" fill="#CC8963" stroke="#505050" stroke-width="1.15"/><path d="M224.10 1017.0H259.70" stroke="#505050" stroke-width="1.15"/>
<path d="M301.00 974.8V971.6M292.10 971.6H309.90M301.00 1031.4V1044.5M292.10 1044.5H309.90" stroke="#505050" stroke-width="1.15" fill="none"/><rect x="283.20" y="974.8" width="35.60" height="56.60" fill="#5F9E6E" stroke="#505050" stroke-width="1.15"/><path d="M283.20 1001.4H318.80" stroke="#505050" stroke-width="1.15"/>
<path d="M242.40 892.10L242.40 883.50M238.68 889.95L246.12 885.65M238.68 885.65L246.12 889.95" stroke="#000" stroke-width="1.2" stroke-linecap="round" fill="none"/>
<path d="M301.90 963.10L301.90 954.50M298.18 960.95L305.62 956.65M298.18 956.65L305.62 960.95" stroke="#000" stroke-width="1.2" stroke-linecap="round" fill="none"/>
<text x="79.05" y="869.7" font-size="28.2" font-weight="bold" textLength="17.85" lengthAdjust="spacingAndGlyphs" fill="#000">e</text>
<rect x="432" y="893" width="175" height="170" fill="#EAEAF2"/>
<path d="M432 1056.0H607M432 1012.7H607M432 969.4H607M432 926.2H607" stroke="#fff" stroke-width="1.05" fill="none"/>
<text x="425.2" y="1062.4" font-size="17.5" text-anchor="end" fill="#262626">0.00</text>
<text x="425.2" y="1019.1" font-size="17.5" text-anchor="end" fill="#262626">0.25</text>
<text x="425.2" y="975.8" font-size="17.5" text-anchor="end" fill="#262626">0.50</text>
<text x="425.2" y="932.6" font-size="17.5" text-anchor="end" fill="#262626">0.75</text>
<text x="432.3" y="890.4" font-size="17.5" fill="#262626">1e6</text>
<text transform="translate(363.8 977.75) rotate(-90)" font-size="19.2" text-anchor="middle" fill="#262626">Firmicute Acyl Carrier</text>
<text transform="translate(383.7 977.95) rotate(-90)" font-size="19.2" text-anchor="middle" fill="#262626">(Norm. MS1 Int.)</text>
<path d="M442.70 1055.6H478.30" stroke="#505050" stroke-width="1.15"/>
<rect x="501.20" y="1030.3" width="35.60" height="25.20" fill="#CC8963" stroke="#505050" stroke-width="1.15"/><path d="M501.20 1055.5H536.80" stroke="#505050" stroke-width="1.15"/><path d="M519.3 898.1L520.9 900.7L519.3 903.3000000000001L517.6999999999999 900.7Z" fill="#505050"/><path d="M519.3 960.6L520.9 963.2L519.3 965.8000000000001L517.6999999999999 963.2Z" fill="#505050"/><path d="M519.3 985.9L520.9 988.5L519.3 991.1L517.6999999999999 988.5Z" fill="#505050"/>
<path d="M559.50 1055.6H595.10" stroke="#505050" stroke-width="1.15"/>
<path d="M519.00 886.00L519.00 877.40M515.28 883.85L522.72 879.55M515.28 879.55L522.72 883.85" stroke="#000" stroke-width="1.2" stroke-linecap="round" fill="none"/>
<text x="352.50" y="867.9" font-size="28.2" font-weight="bold" textLength="11.63" lengthAdjust="spacingAndGlyphs" fill="#000">f</text>
<rect x="710" y="890" width="176" height="172" fill="#EAEAF2"/>
<path d="M710 1054.6H886M710 1000.4H886M710 946.0H886M710 891.3H886" stroke="#fff" stroke-width="1.05" fill="none"/>
<text x="703.2" y="1061.0" font-size="17.5" text-anchor="end" fill="#262626">0</text>
<text x="703.2" y="1006.8" font-size="17.5" text-anchor="end" fill="#262626">2</text>
<text x="703.2" y="952.4" font-size="17.5" text-anchor="end" fill="#262626">4</text>
<text x="703.2" y="897.7" font-size="17.5" text-anchor="end" fill="#262626">6</text>
<text x="710.3" y="887.5" font-size="17.5" fill="#262626">1e6</text>
<text transform="translate(666.0 976.55) rotate(-90)" font-size="19.2" text-anchor="middle" fill="#262626">Ni SOD</text>
<text transform="translate(687.2 975.7) rotate(-90)" font-size="19.2" text-anchor="middle" fill="#262626">(Norm. MS1 Int.)</text>
<path d="M739.00 1022.4V993.4M730.10 993.4H747.90M739.00 1051.3V1053.6M730.10 1053.6H747.90" stroke="#505050" stroke-width="1.15" fill="none"/><rect x="721.20" y="1022.4" width="35.60" height="28.90" fill="#5875A4" stroke="#505050" stroke-width="1.15"/><path d="M721.20 1040.3H756.80" stroke="#505050" stroke-width="1.15"/>
<path d="M798.20 942.5V896.9M789.30 896.9H807.10M798.20 1021.7V1053.6M789.30 1053.6H807.10" stroke="#505050" stroke-width="1.15" fill="none"/><rect x="780.40" y="942.5" width="35.60" height="79.20" fill="#CC8963" stroke="#505050" stroke-width="1.15"/><path d="M780.40 982.2H816.00" stroke="#505050" stroke-width="1.15"/>
<path d="M857.10 978.4V972.3M848.20 972.3H866.00" stroke="#505050" stroke-width="1.15" fill="none"/><rect x="839.30" y="978.4" width="35.60" height="15.00" fill="#5F9E6E" stroke="#505050" stroke-width="1.15"/><path d="M839.30 980.8H874.90" stroke="#505050" stroke-width="1.15"/><path d="M857.3 1026.7L858.9 1029.3L857.3 1031.8999999999999L855.6999999999999 1029.3Z" fill="#505050"/>
<path d="M799.00 889.50L799.00 880.90M795.28 887.35L802.72 883.05M795.28 883.05L802.72 887.35" stroke="#000" stroke-width="1.2" stroke-linecap="round" fill="none"/>
<path d="M857.30 967.50L857.30 958.90M853.58 965.35L861.02 961.05M853.58 961.05L861.02 965.35" stroke="#000" stroke-width="1.2" stroke-linecap="round" fill="none"/>
<text x="629.08" y="868.2" font-size="28.2" font-weight="bold" textLength="18.10" lengthAdjust="spacingAndGlyphs" fill="#000">g</text>
<text x="25.20" y="15.2" font-size="28.2" font-weight="bold" textLength="15.23" lengthAdjust="spacingAndGlyphs" fill="#000">a</text>
<rect x="484" y="1072.7" width="33.3" height="15.2" fill="#5875A4"/>
<text x="522.06" y="1085.0" font-size="19.1" textLength="63.48" lengthAdjust="spacingAndGlyphs" fill="#000">Puff no</text>
<text x="522.36" y="1106.5" font-size="19.1" textLength="77.68" lengthAdjust="spacingAndGlyphs" fill="#000">particles</text>
<rect x="632.2" y="1072.7" width="32.6" height="15.2" fill="#CC8963"/>
<text x="670.74" y="1085.0" font-size="19.1" textLength="62.00" lengthAdjust="spacingAndGlyphs" fill="#000">Puff w/</text>
<text x="671.06" y="1106.5" font-size="19.1" textLength="77.68" lengthAdjust="spacingAndGlyphs" fill="#000">particles</text>
<rect x="772" y="1072.7" width="34.0" height="15.2" fill="#5F9E6E"/>
<text x="810.92" y="1085.0" font-size="19.1" textLength="63.53" lengthAdjust="spacingAndGlyphs" fill="#000">Tuft w/</text>
<text x="810.36" y="1106.5" font-size="19.1" textLength="77.68" lengthAdjust="spacingAndGlyphs" fill="#000">particles</text>
<text x="456.23" y="1035.8" font-size="11.2" textLength="21.38" lengthAdjust="spacingAndGlyphs" fill="#000">(not</text>
<text x="441.38" y="1049.9" font-size="11.2" textLength="51.56" lengthAdjust="spacingAndGlyphs" fill="#000">detected)</text>
<text x="566.53" y="1033.4" font-size="11.2" textLength="21.38" lengthAdjust="spacingAndGlyphs" fill="#000">(not</text>
<text x="551.68" y="1047.5" font-size="11.2" textLength="51.56" lengthAdjust="spacingAndGlyphs" fill="#000">detected)</text>
</svg>
</body></html>
